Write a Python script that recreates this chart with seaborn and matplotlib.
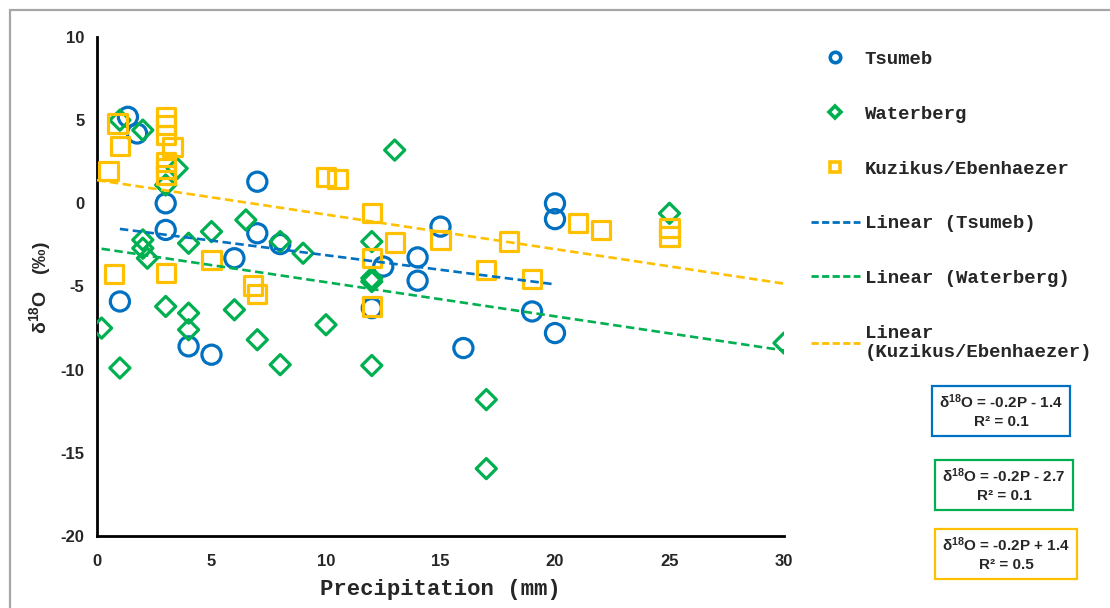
import numpy as np
import pandas as pd
import matplotlib
matplotlib.use("Agg")
import matplotlib.pyplot as plt
import seaborn as sns
from matplotlib.lines import Line2D
from matplotlib.patches import Rectangle
from matplotlib.font_manager import FontProperties

# ---------------- data ----------------
tsumeb_p = [1.35, 1.75, 3, 3, 1, 4, 5, 6, 7, 7, 8, 12, 12.5, 14, 14, 15, 16, 19, 20, 20, 20]
tsumeb_d = [5.2, 4.2, 0, -1.6, -5.9, -8.6, -9.1, -3.3, 1.3, -1.8, -2.45, -6.3, -3.8, -3.25,
            -4.65, -1.4, -8.7, -6.5, 0, -0.95, -7.8]

water_p = [1, 2, 3.5, 3, 2, 2, 2.2, 4, 5, 6.5, 8, 9, 12, 12, 12, 13, 0.2, 1, 3, 4, 4, 6, 7,
           8, 10, 12, 17, 17, 25, 30]
water_d = [5.0, 4.4, 2.1, 1.1, -2.2, -2.7, -3.3, -2.4, -1.7, -1.0, -2.3, -3.0, -2.3, -4.5,
           -4.7, 3.2, -7.5, -9.9, -6.2, -6.6, -7.6, -6.4, -8.2, -9.7, -7.3, -9.75, -11.8,
           -15.95, -0.6, -8.4]

kuz_p = [0.9, 1.0, 0.5, 0.75, 3, 3, 3, 3.3, 3, 3, 3, 3, 5, 6.8, 7, 10, 10.5, 12, 12, 12, 13,
         15, 17, 18, 19, 21, 22, 25, 25]
kuz_d = [4.8, 3.45, 1.95, -4.25, 5.2, 4.7, 4.1, 3.4, 2.5, 2.1, 1.7, -4.2, -3.4, -4.95, -5.45,
         1.6, 1.45, -0.6, -3.3, -6.2, -2.35, -2.2, -4.0, -2.3, -4.55, -1.2, -1.6, -1.5, -2.0]

series_names = ["Tsumeb", "Waterberg", "Kuzikus/Ebenhaezer"]
trend_labels = ["Linear (Tsumeb)", "Linear (Waterberg)", "Linear\n(Kuzikus/Ebenhaezer)"]
equations = ["δ$^{18}$O = -0.2P - 1.4\nR² = 0.1",
             "δ$^{18}$O = -0.2P - 2.7\nR² = 0.1",
             "δ$^{18}$O = -0.2P + 1.4\nR² = 0.5"]
x_ticks = [0, 5, 10, 15, 20, 25, 30]
y_ticks = [-20, -15, -10, -5, 0, 5, 10]

BLUE, GREEN, YELLOW = "#0070C0", "#00B050", "#FFC000"

# ---------------- style ----------------
sns.set_style("white")
plt.rcParams["font.family"] = ["Liberation Sans", "DejaVu Sans"]
plt.rcParams["mathtext.fontset"] = "custom"
plt.rcParams["mathtext.rm"] = "Liberation Sans:bold"
plt.rcParams["mathtext.bf"] = "Liberation Sans:bold"
plt.rcParams["mathtext.it"] = "Liberation Sans:bold:italic"
plt.rcParams["mathtext.default"] = "rm"

W, H = 1110, 608
fig = plt.figure(figsize=(W / 100, H / 100), dpi=100)
fig.patch.set_facecolor("white")
ax = fig.add_axes([97 / W, 1 - 536 / H, (784 - 97) / W, (536 - 37) / H])

# figure border (top and left visible)
fig.patches.append(Rectangle((10 / W, -0.2), 1.3, 1.2 - 10 / H, transform=fig.transFigure,
                             fill=False, ec="#A6A6A6", lw=1.6, zorder=0))

dfs = [pd.DataFrame({"P": tsumeb_p, "d": tsumeb_d}),
       pd.DataFrame({"P": water_p, "d": water_d}),
       pd.DataFrame({"P": kuz_p, "d": kuz_d})]
colors = [BLUE, GREEN, YELLOW]
markers = ["o", "D", "s"]
sizes = [190, 105, 175]

for df, c, m, s in zip(dfs, colors, markers, sizes):
    sns.scatterplot(data=df, x="P", y="d", ax=ax, marker=m, s=s, facecolor="none",
                    edgecolor=c, linewidth=2.3, zorder=3, legend=False)

ax.set_xlim(0, 30)
ax.set_ylim(-20, 10)

dash = (0, (3.2, 1.7))
for df, c, trunc in zip(dfs, colors, [True, True, False]):
    sns.regplot(data=df, x="P", y="d", ax=ax, scatter=False, ci=None, truncate=trunc,
                color=c, line_kws=dict(ls=dash, lw=1.9, zorder=4))

ax.set_xlim(0, 30)
ax.set_ylim(-20, 10)
ax.set_xticks(x_ticks)
ax.set_yticks(y_ticks)
ax.set_xticklabels([str(t) for t in x_ticks])
ax.set_yticklabels([str(t) for t in y_ticks])
ax.tick_params(direction="out", length=5, width=1.5, color="black", labelsize=12, pad=4)
for lbl in ax.get_xticklabels() + ax.get_yticklabels():
    lbl.set_fontweight("bold")
ax.tick_params(axis="x", pad=8)
for side in ["top", "right"]:
    ax.spines[side].set_visible(False)
for side in ["left", "bottom"]:
    ax.spines[side].set_linewidth(2)
    ax.spines[side].set_color("black")
ax.set_xlabel("")
ax.set_ylabel("")

fig.text(440 / W, 1 - 590 / H, "Precipitation (mm)", ha="center", va="center",
         fontfamily="Liberation Mono", fontweight="bold", fontsize=16)
fig.text(40 / W, 1 - 288 / H, "δ$^{18}$O   (‰)", ha="center", va="center", rotation=90,
         fontweight="bold", fontsize=14)

# legend
handles = [Line2D([0], [0], marker=m, ls="none", mfc="none", mec=c, mew=2.6,
                  ms=(7.5 if m != "D" else 6))
           for m, c in zip(markers, colors)]
handles += [Line2D([0], [0], color=c, ls=(0, (2.6, 1.2)), lw=2) for c in colors]
leg = fig.legend(handles, series_names + trend_labels, loc="upper left",
                 bbox_to_anchor=(803 / W, 1 - 43 / H), frameon=False,
                 prop=FontProperties(family="Liberation Mono", weight="bold", size=13.7),
                 labelspacing=1.97, handlelength=2.6, handletextpad=0.25, borderaxespad=0)

# equation boxes
box_pos = [(1001, 411), (1004, 485), (1006, 554)]
for (bx, by), eq, c in zip(box_pos, equations, colors):
    fig.text(bx / W, 1 - by / H, eq, ha="center", va="center", multialignment="center",
             fontsize=11, fontweight="bold", linespacing=1.35,
             bbox=dict(boxstyle="square,pad=0.45", fc="white", ec=c, lw=1.6))

fig.savefig("out.png", dpi=100)
